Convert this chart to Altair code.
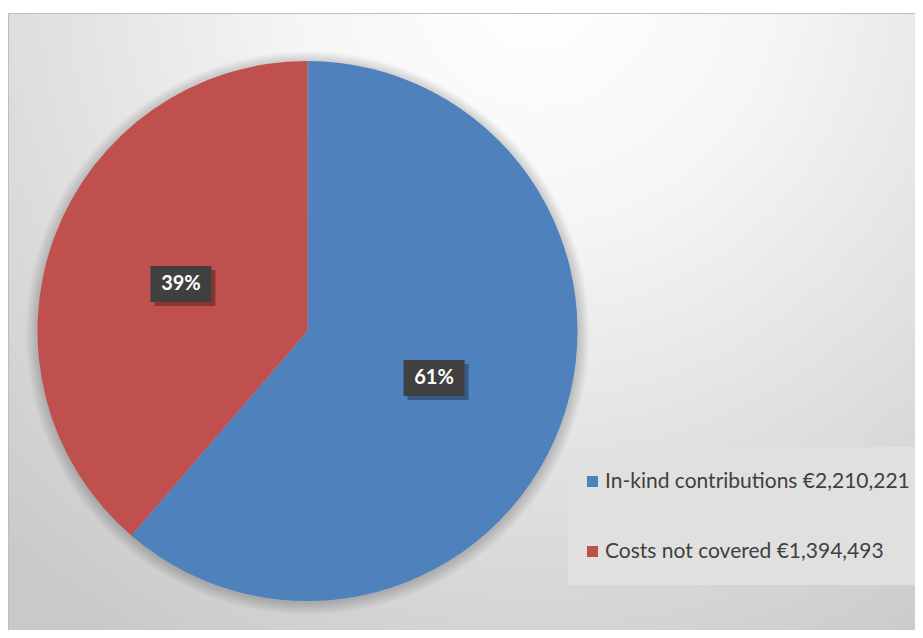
import math
import altair as alt
import pandas as pd

categories = ["In-kind contributions", "Costs not covered"]
amounts = [2210221, 1394493]
colors = ["#4f81bd", "#c0504d"]

W, H = 907, 622
CX, CY, R = 299.5, 323, 270
LABEL_R = 135
BOX_W, BOX_H = 61, 36

total = sum(amounts)
rows = []
cum = 0.0
for i, (c, a) in enumerate(zip(categories, amounts)):
    frac = a / total
    mid = (cum + frac / 2) * 2 * math.pi
    cum += frac
    rows.append(dict(order=i, category=c, amount=a,
                     legend=f"{c} €{a:,}",
                     pct=f"{round(frac * 100)}%",
                     lx=CX + LABEL_R * math.sin(mid),
                     ly=CY - LABEL_R * math.cos(mid)))
df = pd.DataFrame(rows)
legend_labels = list(df["legend"])

xs = alt.Scale(domain=[0, W], range=[0, W], nice=False, zero=False)
ys = alt.Scale(domain=[0, H], range=[0, H], nice=False, zero=False)

bg = alt.Chart(alt.Data(values=[{}])).mark_rect(
    color={"gradient": "radial", "x1": 0.58, "y1": 0.12, "r1": 0.0,
           "x2": 0.58, "y2": 0.12, "r2": 0.85,
           "stops": [{"offset": 0, "color": "#ffffff"},
                     {"offset": 0.3, "color": "#f6f6f6"},
                     {"offset": 1, "color": "#c9c9c9"}]},
    stroke="#bdbdbd", strokeWidth=1
).encode(x=alt.value(0.5), x2=alt.value(W + 5), y=alt.value(5.5), y2=alt.value(H + 20))

shadows = []
for k in range(8):
    shadows.append(
        alt.Chart(alt.Data(values=[{}])).mark_arc(
            radius=R + 1.5 * k + 1, theta=0, theta2=2 * math.pi,
            color="#000000", opacity=0.022
        ).encode(x=alt.value(CX), y=alt.value(CY + 2))
    )

legend_box = alt.Chart(alt.Data(values=[{}])).mark_rect(color="#e0e0e0").encode(
    x=alt.value(560), x2=alt.value(W + 5), y=alt.value(439), y2=alt.value(577)
)

pie = alt.Chart(df).mark_arc(radius=R).encode(
    theta=alt.Theta("amount:Q", stack=True),
    order=alt.Order("order:Q"),
    color=alt.Color(
        "legend:N",
        scale=alt.Scale(domain=legend_labels, range=colors),
        legend=alt.Legend(
            orient="none", legendX=574, legendY=463, title=None,
            padding=0, symbolType="square",
            symbolSize=121, symbolStrokeWidth=0, labelFont="Lato",
            labelFontSize=21, labelColor="#404040", rowPadding=48,
            labelLimit=500, labelOffset=2,
        ),
    ),
    x=alt.value(CX), y=alt.value(CY),
)

base = alt.Chart(df).transform_calculate(
    bx0=f"datum.lx - {BOX_W / 2}", bx1=f"datum.lx + {BOX_W / 2}",
    by0=f"datum.ly - {BOX_H / 2}", by1=f"datum.ly + {BOX_H / 2}",
    sx0=f"datum.lx - {BOX_W / 2} + 4", sx1=f"datum.lx + {BOX_W / 2} + 4",
    sy0=f"datum.ly - {BOX_H / 2} + 4", sy1=f"datum.ly + {BOX_H / 2} + 4",
)

box_shadow = base.mark_rect(color="#000000", opacity=0.3).encode(
    x=alt.X("sx0:Q", scale=xs, axis=None), x2="sx1:Q",
    y=alt.Y("sy0:Q", scale=ys, axis=None), y2="sy1:Q",
)
box = base.mark_rect(color="#404040").encode(
    x=alt.X("bx0:Q", scale=xs, axis=None), x2="bx1:Q",
    y=alt.Y("by0:Q", scale=ys, axis=None), y2="by1:Q",
)
text = alt.Chart(df).mark_text(
    font="Lato", fontSize=20, fontWeight="bold", color="#ffffff",
    align="center", baseline="middle"
).encode(
    x=alt.X("lx:Q", scale=xs, axis=None),
    y=alt.Y("ly:Q", scale=ys, axis=None),
    text="pct:N",
)

chart = alt.layer(bg, *shadows, legend_box, pie, box_shadow, box, text).properties(
    width=W, height=H, padding=0,
    autosize=alt.AutoSizeParams(type="none"),
    background="#ffffff",
).configure_view(stroke=None)

chart.save("out.html", embed_options={"renderer": "svg", "actions": False})
